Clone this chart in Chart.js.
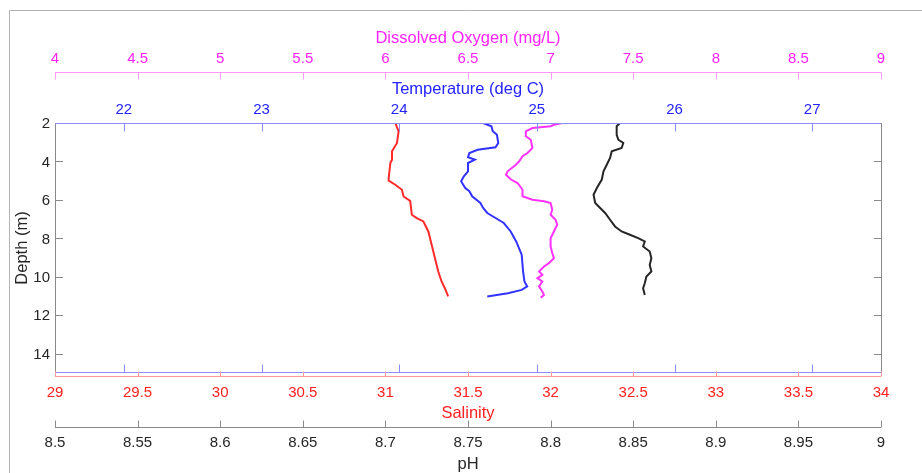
<!DOCTYPE html>
<html>
<head>
<meta charset="utf-8">
<script src="https://cdn.jsdelivr.net/npm/chart.js@4"></script>
<style>
  html, body { margin: 0; padding: 0; background: #fff; }
  #chart { display: block; }
</style>
</head>
<body>
<canvas id="chart" width="922" height="473"></canvas>
<script>
// CTD profile — salinity, temperature, dissolved oxygen, pH vs depth

// ---------- data ----------
const salDepth = [2.0, 2.43, 3.04, 3.47, 3.91, 4.08, 4.86, 5.0, 5.21, 5.47, 5.82, 6.05, 6.77, 6.95, 7.12, 7.64, 8.33, 9.03, 9.72, 10.24, 10.59, 11.02];
const salValues = [31.06, 31.08, 31.07, 31.04, 31.04, 31.03, 31.02, 31.02, 31.06, 31.10, 31.11, 31.15, 31.16, 31.19, 31.23, 31.26, 31.28, 31.30, 31.32, 31.34, 31.36, 31.38];

const tempDepth = [2.0, 2.17, 2.43, 2.61, 3.04, 3.26, 3.39, 3.56, 3.78, 3.91, 4.08, 4.51, 4.77, 5.03, 5.38, 5.55, 5.81, 6.16, 6.42, 6.68, 6.94, 7.20, 7.64, 8.16, 8.85, 9.72, 10.24, 10.50, 10.68, 10.85, 10.93, 11.02];
const tempValues = [24.61, 24.67, 24.68, 24.71, 24.72, 24.70, 24.57, 24.51, 24.50, 24.55, 24.50, 24.50, 24.47, 24.45, 24.48, 24.51, 24.53, 24.59, 24.61, 24.64, 24.70, 24.76, 24.81, 24.85, 24.89, 24.90, 24.91, 24.93, 24.89, 24.79, 24.72, 24.64];

const doDepth = [2.0, 2.09, 2.17, 2.26, 2.43, 2.69, 2.87, 3.30, 3.56, 3.73, 3.99, 4.17, 4.51, 4.69, 4.94, 5.12, 5.47, 5.81, 5.99, 6.07, 6.16, 6.51, 6.77, 7.03, 7.29, 7.64, 7.99, 8.42, 8.76, 9.03, 9.29, 9.46, 9.72, 9.90, 10.07, 10.24, 10.50, 10.76, 10.94, 11.08];
const doValues = [7.07, 7.02, 7.00, 6.89, 6.85, 6.85, 6.88, 6.89, 6.86, 6.83, 6.81, 6.79, 6.74, 6.73, 6.76, 6.80, 6.83, 6.83, 6.89, 6.96, 7.00, 7.01, 7.00, 7.03, 7.04, 7.02, 7.00, 7.00, 7.01, 7.02, 6.99, 6.96, 6.93, 6.95, 6.92, 6.95, 6.93, 6.95, 6.96, 6.94];

const phDepth = [2.0, 2.17, 2.61, 2.87, 3.04, 3.30, 3.47, 3.82, 4.17, 4.51, 4.94, 5.38, 5.73, 6.16, 6.42, 6.68, 7.03, 7.38, 7.64, 7.81, 7.99, 8.16, 8.42, 8.68, 9.03, 9.38, 9.72, 9.98, 10.33, 10.59, 10.94];
const phValues = [8.842, 8.840, 8.840, 8.841, 8.844, 8.843, 8.837, 8.836, 8.834, 8.832, 8.831, 8.828, 8.826, 8.827, 8.830, 8.833, 8.836, 8.839, 8.843, 8.848, 8.853, 8.857, 8.856, 8.860, 8.861, 8.860, 8.861, 8.858, 8.857, 8.856, 8.857];

// ---------- axes ----------
const depthTicks = [2, 4, 6, 8, 10, 12, 14];
const doTicks    = [4, 4.5, 5, 5.5, 6, 6.5, 7, 7.5, 8, 8.5, 9];
const tempTicks  = [22, 23, 24, 25, 26, 27];
const salTicks   = [29, 29.5, 30, 30.5, 31, 31.5, 32, 32.5, 33, 33.5, 34];
const phTicks    = [8.5, 8.55, 8.6, 8.65, 8.7, 8.75, 8.8, 8.85, 8.9, 8.95, 9];

const DEPTH_RANGE = [2, 15];
const DO_RANGE    = [4, 9];
const TEMP_RANGE  = [21.5, 27.5];
const SAL_RANGE   = [29, 34];
const PH_RANGE    = [8.5, 9];

const FONT = '"Liberation Sans", Arial, Helvetica, sans-serif';
const TICK_FONT  = "15px " + FONT;
const TITLE_FONT = "16.5px " + FONT;

const COL = {
  red:     { line: "#ff2b2b", axis: "#ff9a9a", text: "#ff2020" },
  blue:    { line: "#3333ff", axis: "#8c8cff", text: "#2424ff" },
  magenta: { line: "#ff33ff", axis: "#ff99ff", text: "#ff22ff" },
  black:   { line: "#262626", axis: "#8a8a8a", text: "#262626" },
};

const pts = (xs, ys) => xs.map((x, i) => ({ x, y: ys[i] }));
const fmt = v => String(+v.toFixed(3));

// ---------- hand-drawn MATLAB-ish axes, positioned from the library scales ----------
function hAxis(ctx, scale, y, ticks, dir, len, col, labelY, title, titleY) {
  const left = scale.left, right = scale.right;
  ctx.strokeStyle = col.axis;
  ctx.lineWidth = 1;
  ctx.beginPath();
  ctx.moveTo(left, y + 0.5);
  ctx.lineTo(right, y + 0.5);
  for (const t of ticks) {
    const px = Math.round(scale.getPixelForValue(t)) + 0.5;
    ctx.moveTo(px, y + 0.5);
    ctx.lineTo(px, y + 0.5 + dir * len);
  }
  ctx.stroke();
  if (labelY == null) return;
  ctx.fillStyle = col.text;
  ctx.font = TICK_FONT;
  ctx.textAlign = "center";
  ctx.textBaseline = "middle";
  for (const t of ticks) ctx.fillText(fmt(t), scale.getPixelForValue(t), labelY);
  if (title) {
    ctx.font = TITLE_FONT;
    ctx.fillText(title, (left + right) / 2, titleY);
  }
}

const axesPlugin = {
  id: "matlabAxes",
  afterDatasetsDraw(chart) {
    const { ctx, chartArea: a, scales: s } = chart;
    ctx.save();

    // figure frame
    ctx.strokeStyle = "#b4b4b4";
    ctx.lineWidth = 1;
    ctx.beginPath();
    ctx.moveTo(9.5, 473);
    ctx.lineTo(9.5, 10.5);
    ctx.lineTo(922, 10.5);
    ctx.stroke();

    // depth axis, left + right
    const yS = s.y;
    ctx.strokeStyle = "#8a8a8a";
    ctx.beginPath();
    ctx.moveTo(a.left + 0.5, a.top);
    ctx.lineTo(a.left + 0.5, a.bottom);
    ctx.moveTo(a.right + 0.5, a.top);
    ctx.lineTo(a.right + 0.5, a.bottom);
    for (const t of depthTicks) {
      const py = Math.round(yS.getPixelForValue(t)) + 0.5;
      ctx.moveTo(a.left, py); ctx.lineTo(a.left + 8, py);
      ctx.moveTo(a.right + 0.5, py); ctx.lineTo(a.right - 7, py);
    }
    ctx.stroke();
    ctx.fillStyle = COL.black.text;
    ctx.font = TICK_FONT;
    ctx.textAlign = "right";
    ctx.textBaseline = "middle";
    for (const t of depthTicks) ctx.fillText(String(t), a.left - 5, yS.getPixelForValue(t) + 1);
    ctx.save();
    ctx.translate(22, (a.top + a.bottom) / 2);
    ctx.rotate(-Math.PI / 2);
    ctx.textAlign = "center";
    ctx.font = TITLE_FONT;
    ctx.fillText("Depth (m)", 0, 0);
    ctx.restore();

    // top: temperature (on the box) and dissolved oxygen (offset above)
    hAxis(ctx, s.xTemp, a.top, tempTicks, 1, 8, COL.blue, 110, "Temperature (deg C)", 89);
    hAxis(ctx, s.xTemp, a.bottom - 1, tempTicks, -1, 8, COL.blue, null);
    hAxis(ctx, s.xDO, 72, doTicks, 1, 7, COL.magenta, 59, "Dissolved Oxygen (mg/L)", 38);

    // bottom: salinity and pH
    hAxis(ctx, s.xSal, a.bottom + 3, salTicks, -1, 5, COL.red, 393, "Salinity", 413);
    hAxis(ctx, s.xPH, 427, phTicks, -1, 7, COL.black, 443, "pH", 464);

    ctx.restore();
  },
};

// ---------- chart ----------
const hidden = (min, max) => ({ type: "linear", min, max, display: false });

new Chart(document.getElementById("chart"), {
  type: "scatter",
  data: {
    datasets: [
      { label: "Salinity", data: pts(salValues, salDepth), xAxisID: "xSal",
        borderColor: COL.red.line },
      { label: "Temperature", data: pts(tempValues, tempDepth), xAxisID: "xTemp",
        borderColor: COL.blue.line },
      { label: "Dissolved Oxygen", data: pts(doValues, doDepth), xAxisID: "xDO",
        borderColor: COL.magenta.line },
      { label: "pH", data: pts(phValues, phDepth), xAxisID: "xPH",
        borderColor: COL.black.line },
    ].map(d => ({ ...d, showLine: true, pointRadius: 0, borderWidth: 2, tension: 0, fill: false })),
  },
  options: {
    responsive: false,
    animation: false,
    layout: { padding: { left: 55, top: 123, right: 41, bottom: 100 } },
    plugins: { legend: { display: false }, tooltip: { enabled: false } },
    scales: {
      xSal:  hidden(...SAL_RANGE),
      xTemp: hidden(...TEMP_RANGE),
      xDO:   hidden(...DO_RANGE),
      xPH:   hidden(...PH_RANGE),
      y: { type: "linear", min: DEPTH_RANGE[0], max: DEPTH_RANGE[1], reverse: true, display: false },
    },
  },
  plugins: [axesPlugin],
});
</script>
</body>
</html>
